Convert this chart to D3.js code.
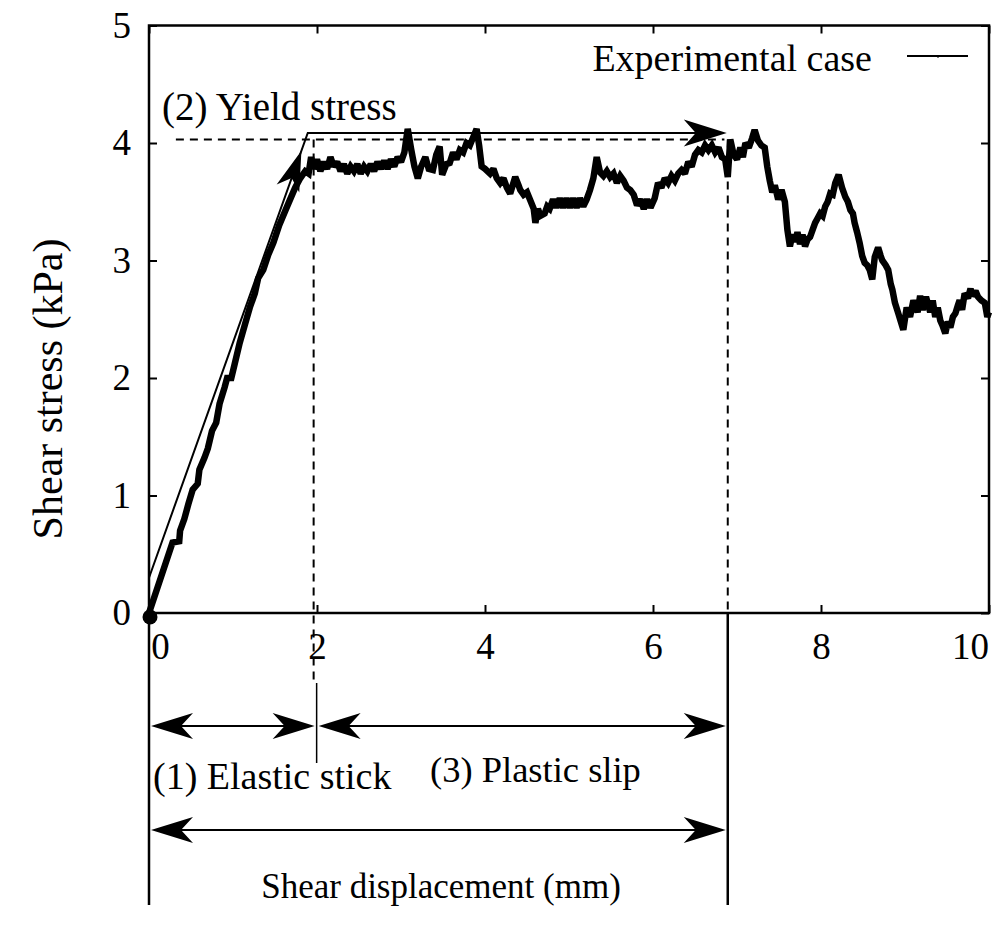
<!DOCTYPE html>
<html>
<head>
<meta charset="utf-8">
<script src="https://cdn.jsdelivr.net/npm/d3@7"></script>
<style>
  html, body { margin: 0; padding: 0; background: #fff; }
  svg text { font-family: "Liberation Serif", "Times New Roman", Times, serif; fill: #000; }
</style>
</head>
<body>
<svg id="chart" width="1000" height="929"></svg>
<script>
// Shear displacement (mm) and measured shear stress (kPa) of the experimental case
const displacement = [
  0.00, 0.28, 0.36, 0.37, 0.42, 0.47, 0.52, 0.58, 0.60, 0.66, 0.70, 0.75, 0.80, 0.84, 0.90, 0.93, 0.98,
  1.02, 1.08, 1.14, 1.20, 1.26, 1.30, 1.36, 1.42, 1.48, 1.55, 1.62, 1.68, 1.74, 1.80, 1.86, 1.90, 1.93,
  1.96, 2.00, 2.04, 2.08, 2.12, 2.16, 2.20, 2.24, 2.28, 2.32, 2.36, 2.40, 2.44, 2.48, 2.52, 2.56, 2.60,
  2.64, 2.68, 2.72, 2.76, 2.80, 2.84, 2.88, 2.92, 2.96, 3.00, 3.04, 3.08, 3.12, 3.16, 3.20, 3.24, 3.29,
  3.33, 3.38, 3.42, 3.46, 3.49, 3.54, 3.58, 3.62, 3.66, 3.70, 3.74, 3.78, 3.82, 3.86, 3.90, 3.93, 3.96,
  4.00, 4.06, 4.10, 4.14, 4.18, 4.22, 4.26, 4.30, 4.36, 4.40, 4.42, 4.46, 4.50, 4.54, 4.58, 4.60, 4.63,
  4.66, 4.71, 4.74, 4.77, 4.81, 4.85, 4.89, 4.93, 4.97, 5.01, 5.05, 5.09, 5.13, 5.17, 5.21, 5.25, 5.29,
  5.33, 5.37, 5.41, 5.45, 5.49, 5.53, 5.57, 5.61, 5.65, 5.69, 5.73, 5.77, 5.81, 5.85, 5.89, 5.93, 5.97,
  6.02, 6.06, 6.10, 6.14, 6.18, 6.22, 6.26, 6.30, 6.34, 6.38, 6.42, 6.46, 6.50, 6.54, 6.58, 6.62, 6.66,
  6.70, 6.74, 6.78, 6.82, 6.86, 6.89, 6.92, 6.96, 7.00, 7.04, 7.07, 7.10, 7.14, 7.18, 7.21, 7.25, 7.29,
  7.33, 7.36, 7.39, 7.42, 7.45, 7.49, 7.53, 7.57, 7.60, 7.63, 7.66, 7.69, 7.72, 7.75, 7.78, 7.81, 7.84,
  7.87, 7.90, 7.93, 7.96, 7.99, 8.02, 8.05, 8.08, 8.11, 8.14, 8.17, 8.21, 8.25, 8.29, 8.32, 8.35, 8.38,
  8.40, 8.43, 8.46, 8.49, 8.52, 8.55, 8.58, 8.61, 8.64, 8.68, 8.71, 8.73, 8.77, 8.80, 8.83, 8.85, 8.88,
  8.92, 8.95, 8.98, 9.02, 9.06, 9.10, 9.15, 9.18, 9.21, 9.25, 9.30, 9.33, 9.36, 9.39, 9.42, 9.45, 9.48,
  9.51, 9.54, 9.57, 9.60, 9.63, 9.65, 9.68, 9.71, 9.75, 9.78, 9.80, 9.84, 9.87, 9.91, 9.95, 9.98, 10.00
];
const shearStress = [
  0.00, 0.60, 0.61, 0.70, 0.80, 0.93, 1.05, 1.10, 1.22, 1.32, 1.40, 1.55, 1.62, 1.78, 1.92, 2.00, 2.00,
  2.12, 2.30, 2.45, 2.60, 2.72, 2.85, 2.92, 3.05, 3.15, 3.30, 3.42, 3.52, 3.62, 3.70, 3.76, 3.74, 3.88,
  3.78, 3.86, 3.76, 3.84, 3.78, 3.88, 3.80, 3.84, 3.76, 3.82, 3.74, 3.80, 3.76, 3.82, 3.74, 3.80, 3.76,
  3.82, 3.76, 3.84, 3.78, 3.85, 3.78, 3.86, 3.80, 3.88, 3.84, 3.92, 4.12, 3.95, 3.80, 3.70, 3.80, 3.88,
  3.78, 3.77, 3.90, 3.97, 3.73, 3.82, 3.83, 3.92, 3.86, 3.94, 3.92, 4.00, 3.98, 4.05, 4.12, 3.98, 3.80,
  3.78, 3.74, 3.78, 3.70, 3.66, 3.70, 3.62, 3.57, 3.71, 3.64, 3.60, 3.56, 3.58, 3.51, 3.44, 3.32, 3.44,
  3.38, 3.40, 3.46, 3.44, 3.52, 3.45, 3.53, 3.45, 3.53, 3.45, 3.53, 3.45, 3.53, 3.46, 3.52, 3.60, 3.70,
  3.88, 3.75, 3.72, 3.76, 3.71, 3.74, 3.66, 3.72, 3.68, 3.62, 3.60, 3.56, 3.47, 3.52, 3.44, 3.52, 3.45,
  3.53, 3.66, 3.62, 3.70, 3.66, 3.72, 3.68, 3.74, 3.77, 3.74, 3.84, 3.80, 3.90, 3.94, 3.92, 3.98, 3.94,
  3.98, 3.92, 3.96, 3.88, 3.86, 3.71, 4.03, 3.90, 3.86, 3.96, 3.88, 4.00, 3.96, 4.04, 4.11, 4.02, 3.98,
  3.96, 3.80, 3.68, 3.58, 3.64, 3.52, 3.60, 3.50, 3.26, 3.12, 3.22, 3.16, 3.24, 3.14, 3.22, 3.12, 3.18,
  3.20, 3.26, 3.32, 3.36, 3.40, 3.38, 3.46, 3.50, 3.57, 3.56, 3.66, 3.73, 3.62, 3.54, 3.50, 3.43, 3.40,
  3.32, 3.24, 3.15, 3.04, 2.98, 2.96, 2.92, 2.84, 3.03, 3.11, 3.04, 3.00, 2.96, 2.92, 2.80, 2.75, 2.64,
  2.55, 2.48, 2.41, 2.60, 2.52, 2.66, 2.56, 2.70, 2.58, 2.69, 2.56, 2.66, 2.52, 2.60, 2.49, 2.44, 2.38,
  2.48, 2.43, 2.52, 2.55, 2.62, 2.66, 2.58, 2.72, 2.68, 2.76, 2.70, 2.74, 2.69, 2.66, 2.64, 2.52, 2.56
];

// Axis ticks
const xTicks = [0, 2, 4, 6, 8, 10];
const yTicks = [0, 1, 2, 3, 4, 5];

// Idealised stick–slip guide values
const yieldStress = 4.03;       // dashed yield level (kPa)
const stickEnd = 1.96;          // end of elastic stick (mm)
const slipEnd = 6.89;           // end of plastic slip (mm)
const guideStart = [0, 0.30];   // start of the elastic guide line
const guideTop = 4.085;         // level of the upper guide line (kPa)
const guideCorner = 1.89;       // displacement at the guide corner (mm)

(function () {
  const svg = d3.select("#chart");
  const pL = 149, pR = 989, pT = 25.5, pB = 613;

  const x = d3.scaleLinear().domain([0, 10]).range([pL, pR]);
  const y = d3.scaleLinear().domain([0, 5]).range([pB, pT]);

  const FS = 37;

  // Filled arrowhead with a notched back, tip at (tx, ty) pointing along angle a
  function arrowHead(tx, ty, a, L = 42, Wd = 13, notch = 12) {
    const c = Math.cos(a), s = Math.sin(a);
    const pt = (u, v) => [tx - u * c - v * s, ty - u * s + v * c];
    const p = [pt(0, 0), pt(L, -Wd), pt(L - notch, 0), pt(L, Wd)];
    return "M" + p.map(q => q.join(",")).join("L") + "Z";
  }

  // Frame
  svg.append("rect")
    .attr("x", pL).attr("y", pT)
    .attr("width", pR - pL).attr("height", pB - pT)
    .attr("fill", "none").attr("stroke", "#000").attr("stroke-width", 2.5);

  // Axes with inward ticks
  const gx = svg.append("g").attr("transform", `translate(0,${pB})`)
    .call(d3.axisBottom(x).tickValues(xTicks).tickSizeInner(-8).tickSizeOuter(0).tickPadding(20).tickFormat(d3.format("d")));
  const gy = svg.append("g").attr("transform", `translate(${pL},0)`)
    .call(d3.axisLeft(y).tickValues(yTicks).tickSizeInner(-8).tickSizeOuter(0).tickPadding(18).tickFormat(d3.format("d")));
  svg.append("g").attr("transform", `translate(0,${pT})`)
    .call(d3.axisTop(x).tickValues(xTicks).tickSizeInner(-8).tickSizeOuter(0).tickFormat(""));
  svg.append("g").attr("transform", `translate(${pR},0)`)
    .call(d3.axisRight(y).tickValues(yTicks).tickSizeInner(-8).tickSizeOuter(0).tickFormat(""));

  svg.selectAll(".domain").attr("stroke", "none");
  svg.selectAll(".tick line").attr("stroke", "#000").attr("stroke-width", 2);
  svg.selectAll(".tick text")
    .attr("font-family", '"Liberation Serif", "Times New Roman", serif')
    .attr("font-size", FS).attr("fill", "#000");
  gx.selectAll(".tick text").attr("dx", d => d === 0 ? 11 : (d === 10 ? -19 : 0));
  gy.selectAll(".tick text").filter(d => d === 5).attr("fill", "#555");

  // Dashed yield level and phase boundaries
  const dash = "8,6";
  svg.append("line")
    .attr("x1", x(0.32)).attr("x2", x(slipEnd - 0.04))
    .attr("y1", y(yieldStress)).attr("y2", y(yieldStress))
    .attr("stroke", "#000").attr("stroke-width", 2).attr("stroke-dasharray", dash);
  svg.append("line")
    .attr("x1", x(stickEnd)).attr("x2", x(stickEnd))
    .attr("y1", y(yieldStress)).attr("y2", pB + 70)
    .attr("stroke", "#000").attr("stroke-width", 2).attr("stroke-dasharray", dash);
  svg.append("line")
    .attr("x1", x(slipEnd)).attr("x2", x(slipEnd))
    .attr("y1", y(yieldStress)).attr("y2", pB)
    .attr("stroke", "#000").attr("stroke-width", 2).attr("stroke-dasharray", dash);

  // Experimental curve
  const pts = displacement.map((d, i) => [d, shearStress[i]]);
  svg.append("path")
    .datum(pts)
    .attr("fill", "none").attr("stroke", "#000")
    .attr("stroke-width", 6.5).attr("stroke-linejoin", "miter").attr("stroke-miterlimit", 2)
    .attr("d", d3.line().x(d => x(d[0])).y(d => y(d[1])));

  // Idealised elastic guide with arrow, then plateau arrow
  const gx0 = x(guideStart[0]), gy0 = y(guideStart[1]);
  const gcx = x(guideCorner), gcy = y(guideTop);
  svg.append("path")
    .attr("d", `M${gx0},${gy0}L${gcx},${gcy}L${x(slipEnd) - 20},${gcy}`)
    .attr("fill", "none").attr("stroke", "#000").attr("stroke-width", 2);
  const diagA = Math.atan2(gcy - gy0, gcx - gx0);
  const tipT = 0.96;
  svg.append("path")
    .attr("d", arrowHead(gx0 + (gcx - gx0) * tipT, gy0 + (gcy - gy0) * tipT, diagA, 40, 12, 11))
    .attr("fill", "#000");
  svg.append("path")
    .attr("d", arrowHead(x(slipEnd) - 1, gcy, 0, 43, 13.5, 12))
    .attr("fill", "#000");

  // Origin marker
  svg.append("circle").attr("cx", x(0) + 1).attr("cy", y(0) + 4).attr("r", 7.5).attr("fill", "#000");

  // Phase span lines below the axis
  const row1 = pB + 113, row2 = pB + 217, baseEnd = pB + 292;
  svg.append("line").attr("x1", x(0)).attr("x2", x(0)).attr("y1", pB).attr("y2", baseEnd)
    .attr("stroke", "#000").attr("stroke-width", 2.5);
  svg.append("line").attr("x1", x(slipEnd)).attr("x2", x(slipEnd)).attr("y1", pB).attr("y2", baseEnd)
    .attr("stroke", "#000").attr("stroke-width", 2.5);
  svg.append("line").attr("x1", x(stickEnd) + 3).attr("x2", x(stickEnd) + 3).attr("y1", pB + 70).attr("y2", pB + 150)
    .attr("stroke", "#000").attr("stroke-width", 1.5);

  function spanArrow(x0, x1, yy) {
    svg.append("line").attr("x1", x0 + 10).attr("x2", x1 - 10).attr("y1", yy).attr("y2", yy)
      .attr("stroke", "#000").attr("stroke-width", 2);
    svg.append("path").attr("d", arrowHead(x0, yy, Math.PI)).attr("fill", "#000");
    svg.append("path").attr("d", arrowHead(x1, yy, 0)).attr("fill", "#000");
  }
  spanArrow(x(0) + 2, x(stickEnd) + 1, row1);
  spanArrow(x(stickEnd) + 5, x(slipEnd) - 2, row1);
  spanArrow(x(0) + 2, x(slipEnd) - 2, row2);

  // Text annotations
  function label(txt, tx, ty, size, anchor = "start") {
    return svg.append("text").attr("x", tx).attr("y", ty)
      .attr("font-size", size).attr("text-anchor", anchor).text(txt);
  }
  label("(2) Yield stress", 162, 120, 39);
  label("(1) Elastic stick", 153, 789, 38);
  label("(3) Plastic slip", 430, 782, 36.5);
  label("Shear displacement (mm)", 441, 898, 35, "middle");
  svg.append("text")
    .attr("transform", "translate(62,389) rotate(-90)")
    .attr("font-size", 42).attr("text-anchor", "middle")
    .text("Shear stress (kPa)");

  // Legend
  label("Experimental case", 872, 71, 38, "end");
  svg.append("line").attr("x1", 907).attr("x2", 968).attr("y1", 56).attr("y2", 56)
    .attr("stroke", "#000").attr("stroke-width", 2);
  svg.append("line").attr("x1", 938).attr("x2", 938).attr("y1", 55).attr("y2", 58)
    .attr("stroke", "#000").attr("stroke-width", 1);
})();
</script>
</body>
</html>
